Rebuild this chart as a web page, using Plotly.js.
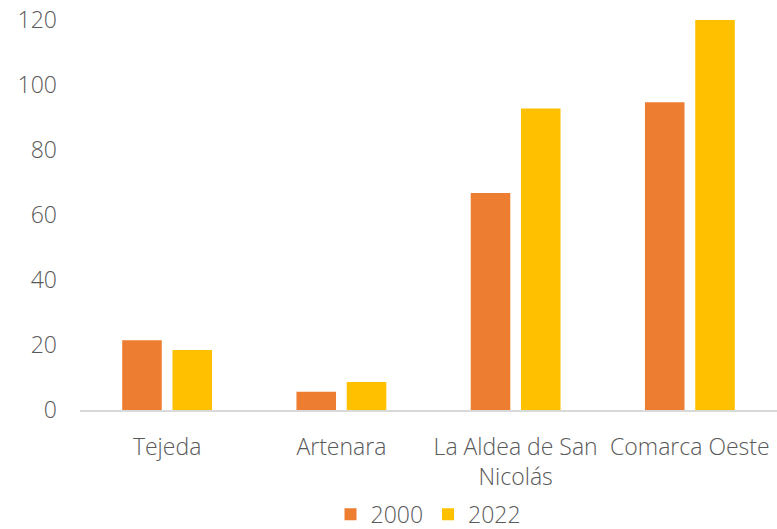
<!DOCTYPE html>
<html>
<head>
<meta charset="utf-8">
<script src="https://cdn.plot.ly/plotly-3.0.1.min.js"></script>
<style>html,body{margin:0;padding:0;background:#fff;}#chart{width:777px;height:529px;}</style>
</head>
<body>
<div id="chart"></div>
<script>
const categories = ["Tejeda", "Artenara", "La Aldea de San<br>Nicolás", "Comarca Oeste"];
const series2000 = [21.5, 5.6, 66.8, 94.7];
const series2022 = [18.5, 8.6, 92.8, 120];
const yTicks = [0, 20, 40, 60, 80, 100, 120];

const fontFam = "'Open Sans', sans-serif";
const textColor = "#595959";
const fsize = 23;

const traces = [
  {type: "bar", name: "2000", x: categories, y: series2000, marker: {color: "#ED7D31"}},
  {type: "bar", name: "2022", x: categories, y: series2022, marker: {color: "#FFC000"}}
];

const layout = {
  width: 777, height: 529,
  margin: {l: 80, r: 0, t: 20, b: 119, autoexpand: false},
  paper_bgcolor: "#fff", plot_bgcolor: "#fff",
  font: {family: fontFam, size: fsize, color: textColor, weight: 300},
  barmode: "group",
  bargap: 0.423,
  bargroupgap: 0.213,
  showlegend: true,
  legend: {orientation: "h", x: 0.5, xanchor: "center", y: -0.212, yanchor: "top",
           font: {family: fontFam, size: fsize, color: textColor, weight: 300},
           itemwidth: 30, traceorder: "normal"},
  xaxis: {showgrid: false, zeroline: false, showline: true, linecolor: "#D9D9D9", linewidth: 1.5,
          ticks: "", ticklabelstandoff: 16, automargin: false,
          tickfont: {family: fontFam, size: fsize, color: textColor, weight: 300}},
  yaxis: {range: [0, 120], tickvals: yTicks, ticktext: yTicks.map(String), showgrid: false,
          zeroline: false, showline: false, ticks: "", ticklabelstandoff: 22, automargin: false,
          tickfont: {family: fontFam, size: fsize, color: textColor, weight: 300}}
};

Plotly.newPlot("chart", traces, layout, {displayModeBar: false, staticPlot: true});
</script>
</body>
</html>
